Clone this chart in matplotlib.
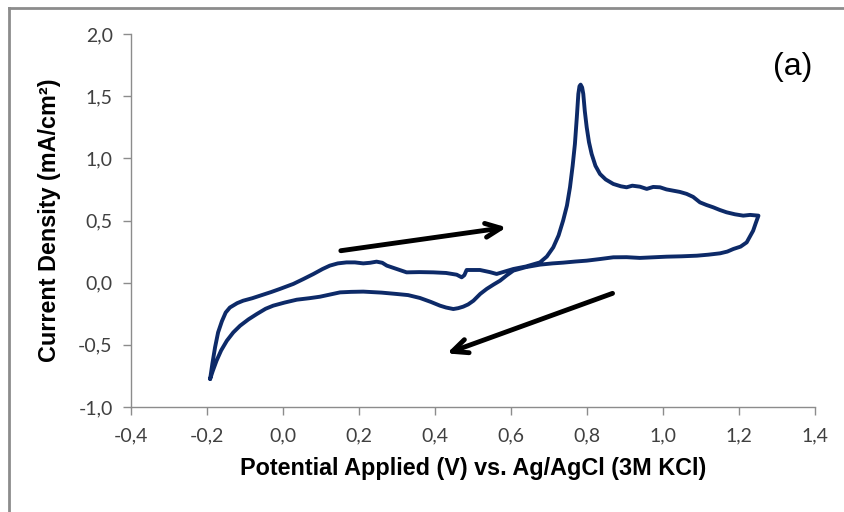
import matplotlib
matplotlib.use("Agg")
import matplotlib.pyplot as plt
from matplotlib.lines import Line2D

# Forward (anodic) sweep
E_fwd = [-0.191, -0.185, -0.178, -0.170, -0.160, -0.150, -0.139, -0.120, -0.104, -0.080,
         -0.060, -0.030, -0.007, 0.028, 0.055, 0.081, 0.105, 0.124, 0.145, 0.168,
         0.190, 0.212, 0.230, 0.247, 0.262, 0.274, 0.300, 0.326, 0.360, 0.396,
         0.430, 0.458, 0.471, 0.478, 0.484, 0.519, 0.545, 0.563, 0.585, 0.607,
         0.640, 0.677, 0.695, 0.712, 0.726, 0.738, 0.748, 0.756, 0.763, 0.769,
         0.774, 0.778, 0.781, 0.784, 0.788, 0.791, 0.795, 0.800, 0.806, 0.813,
         0.823, 0.835, 0.850, 0.870, 0.890, 0.905, 0.920, 0.940, 0.958, 0.975,
         0.993, 1.010, 1.028, 1.045, 1.063, 1.080, 1.098, 1.115, 1.133, 1.150,
         1.168, 1.190, 1.212, 1.230, 1.252]
J_fwd = [-0.775, -0.65, -0.52, -0.40, -0.31, -0.24, -0.20, -0.165, -0.145, -0.125,
         -0.105, -0.075, -0.05, -0.01, 0.03, 0.07, 0.11, 0.137, 0.155, 0.163,
         0.163, 0.155, 0.16, 0.169, 0.16, 0.137, 0.11, 0.083, 0.085, 0.083,
         0.078, 0.064, 0.043, 0.06, 0.102, 0.102, 0.085, 0.07, 0.09, 0.11,
         0.13, 0.163, 0.21, 0.284, 0.38, 0.50, 0.62, 0.767, 0.94, 1.116,
         1.33, 1.518, 1.58, 1.593, 1.57, 1.518, 1.38, 1.25, 1.13, 1.035,
         0.94, 0.874, 0.83, 0.794, 0.775, 0.767, 0.78, 0.772, 0.754, 0.77,
         0.767, 0.75, 0.74, 0.73, 0.714, 0.69, 0.646, 0.625, 0.606, 0.585,
         0.566, 0.55, 0.539, 0.545, 0.539]

# Reverse (cathodic) sweep
E_rev = [1.252, 1.245, 1.238, 1.221, 1.205, 1.186, 1.170, 1.151, 1.120, 1.090,
         1.050, 1.010, 0.975, 0.940, 0.905, 0.870, 0.835, 0.800, 0.770, 0.738,
         0.710, 0.677, 0.640, 0.607, 0.590, 0.572, 0.555, 0.537, 0.520, 0.502,
         0.488, 0.475, 0.462, 0.449, 0.430, 0.414, 0.390, 0.361, 0.330, 0.300,
         0.260, 0.212, 0.180, 0.151, 0.125, 0.098, 0.070, 0.037, 0.005, -0.025,
         -0.045, -0.068, -0.090, -0.112, -0.130, -0.147, -0.162, -0.174, -0.184, -0.191]
J_rev = [0.539, 0.48, 0.418, 0.324, 0.29, 0.271, 0.25, 0.236, 0.225, 0.217,
         0.212, 0.209, 0.204, 0.199, 0.205, 0.204, 0.19, 0.177, 0.17, 0.161,
         0.155, 0.145, 0.125, 0.097, 0.06, 0.016, -0.015, -0.05, -0.09, -0.145,
         -0.175, -0.193, -0.205, -0.212, -0.20, -0.185, -0.155, -0.123, -0.10, -0.091,
         -0.08, -0.072, -0.074, -0.078, -0.095, -0.113, -0.125, -0.137, -0.16, -0.185,
         -0.21, -0.252, -0.295, -0.346, -0.40, -0.467, -0.545, -0.627, -0.71, -0.775]

x_ticks = [-0.4, -0.2, 0.0, 0.2, 0.4, 0.6, 0.8, 1.0, 1.2, 1.4]
y_ticks = [-1.0, -0.5, 0.0, 0.5, 1.0, 1.5, 2.0]
x_label = "Potential Applied (V) vs. Ag/AgCl (3M KCl)"
y_label = "Current Density (mA/cm²)"
panel_label = "(a)"

W, H = 844, 512
fig = plt.figure(figsize=(W / 100, H / 100), dpi=100)
# chart-area frame (only left and top edges fall inside the image)
frame_kw = dict(transform=fig.transFigure, color="#8c8c8c", linewidth=2.0)
fig.lines.append(Line2D([8.5 / W, 8.5 / W], [0, 1 - 7.5 / H], **frame_kw))
fig.lines.append(Line2D([8.5 / W, 1.0], [1 - 7.5 / H, 1 - 7.5 / H], **frame_kw))

ax = fig.add_axes([130.7 / W, 1 - 407 / H, 684 / W, 373 / H])

line_color = "#0d2a68"
ax.plot(E_fwd + E_rev, J_fwd + J_rev, color=line_color, linewidth=2.8,
        solid_joinstyle="round", solid_capstyle="round")

ax.set_xlim(x_ticks[0], x_ticks[-1])
ax.set_ylim(y_ticks[0], y_ticks[-1])
ax.set_xticks(x_ticks)
ax.set_yticks(y_ticks)
ax.set_xticklabels([f"{v:.1f}".replace(".", ",") for v in x_ticks])
ax.set_yticklabels([f"{v:.1f}".replace(".", ",") for v in y_ticks])
for s in ["top", "right"]:
    ax.spines[s].set_visible(False)
for s in ["left", "bottom"]:
    ax.spines[s].set_color("#8c8c8c")
    ax.spines[s].set_linewidth(1.0)
ax.tick_params(axis="both", direction="out", length=6, width=1.0, color="#8c8c8c",
               labelsize=14, labelcolor="#404040")
ax.tick_params(axis="x", pad=9)
ax.tick_params(axis="y", pad=7)
for lab in ax.get_xticklabels() + ax.get_yticklabels():
    lab.set_family("Lato")

ax.set_xlabel(x_label, fontsize=16.8, fontweight="bold", family="Liberation Sans", labelpad=9)
ax.set_ylabel(y_label, fontsize=16.8, fontweight="bold", family="Liberation Sans", labelpad=12)

ax.text(1.343, 1.735, panel_label, fontsize=23, family="Liberation Sans", ha="center", va="center")

arrow_kw = dict(arrowstyle="->,head_length=1.1,head_width=0.5", color="black", lw=3.5,
                shrinkA=0, shrinkB=0)
ax.annotate("", xy=(0.589, 0.445), xytext=(0.153, 0.257), arrowprops=arrow_kw)
ax.annotate("", xy=(0.432, -0.569), xytext=(0.868, -0.086), arrowprops=arrow_kw)

fig.savefig("out.png", dpi=100)
